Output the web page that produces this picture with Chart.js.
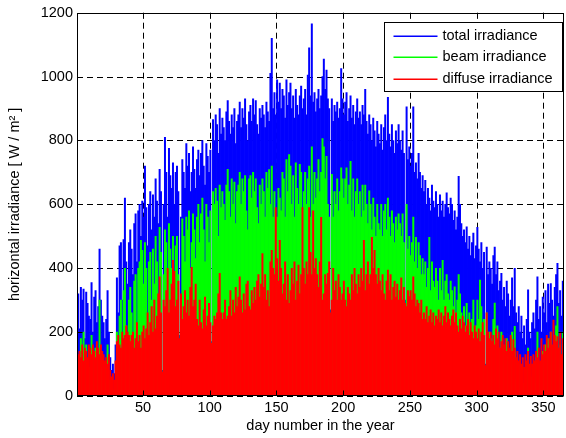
<!DOCTYPE html>
<html><head><meta charset="utf-8">
<script src="https://cdn.jsdelivr.net/npm/chart.js@4.4.1/dist/chart.umd.min.js"></script>
<style>html,body{margin:0;padding:0;background:#fff;}#wrap{width:566px;height:438px;position:relative;}</style>
</head><body><div id="wrap"><canvas id="c" width="566" height="438"></canvas></div>
<script>
const seriesLabels = ['total irradiance', 'beam irradiance', 'diffuse irradiance'];
const seriesColors = ['#0000ff', '#00ff00', '#ff0000'];
const xTickValues = [50, 100, 150, 200, 250, 300, 350];
const yTickValues = [0, 200, 400, 600, 800, 1000, 1200];
const xTitle = 'day number in the year';
const yTitle = 'horizontal irradiance [ W / m\u00B2 ]';

// daily peak values (W/m2), day 1..365
const totalIrradiance = [
345,320,210,340,300,335,180,325,290,250,
240,355,200,310,330,230,280,460,300,250,
230,180,240,330,200,120,80,100,70,160,
370,260,470,480,300,490,620,420,350,480,
520,460,380,540,570,420,580,600,500,610,
560,720,590,470,600,640,520,630,560,680,
610,540,710,640,80,600,810,700,560,775,
690,650,730,600,700,720,640,190,560,740,
700,650,790,720,760,640,700,780,710,650,
740,770,690,760,800,720,660,790,750,700,
770,170,865,800,880,850,760,900,820,870,
840,800,890,925,860,820,880,840,900,790,
860,880,920,840,900,870,930,850,800,890,
910,860,930,880,925,850,820,900,870,910,
880,840,920,890,860,1010,1120,900,950,880,
990,920,980,900,960,940,870,990,910,950,
980,900,940,870,960,910,880,940,970,900,
930,960,880,1005,1090,940,1165,920,950,890,
930,960,900,940,1000,1055,960,1020,930,900,
270,930,860,910,890,920,870,900,1025,930,
880,920,950,860,900,940,870,910,850,890,
930,870,890,850,910,880,960,860,820,880,
850,800,870,830,780,860,820,790,850,770,
840,880,800,935,820,780,850,800,760,830,
790,850,800,770,830,760,300,905,740,780,
720,760,905,700,730,680,760,700,650,690,
640,675,600,650,620,580,660,610,590,640,
600,560,630,580,610,560,600,636,590,570,
620,600,550,580,520,560,688,600,540,500,
520,480,530,460,500,440,480,510,430,470,
528,460,420,480,400,450,100,466,380,420,
400,350,440,466,380,420,330,360,384,300,
340,280,360,320,250,300,370,280,400,260,
230,280,200,250,180,220,160,240,332,200,
180,230,260,210,300,373,240,280,200,310,
260,330,230,350,290,352,300,250,340,380,
415,290,330,250,360
];
const beamIrradiance = [
150,120,60,180,100,200,40,160,110,90,
80,190,50,130,150,70,120,300,140,90,
80,40,90,160,50,10,0,20,0,30,
200,80,250,300,120,330,400,220,150,300,
340,260,160,360,380,220,400,420,487,456,
350,480,400,250,420,450,300,460,350,500,
420,300,528,450,0,380,520,480,300,540,
460,400,500,350,470,500,380,10,300,555,
500,420,560,520,580,400,480,570,520,430,
560,600,480,570,620,520,420,600,560,480,
580,0,640,600,650,610,500,660,590,640,
600,550,660,710,640,560,680,600,670,540,
640,660,700,600,680,640,690,580,520,680,
690,620,700,640,680,590,540,660,600,680,
640,560,700,650,709,600,720,560,640,500,
560,650,620,580,700,680,560,740,640,756,
720,600,690,560,730,650,600,725,700,520,
640,700,600,680,720,560,780,600,700,620,
680,740,640,700,806,780,680,750,600,560,
0,694,560,640,600,680,580,640,714,680,
620,680,714,600,660,735,580,680,560,640,
680,600,640,560,660,580,660,600,540,642,
600,520,620,560,500,600,540,520,600,500,
580,600,520,620,560,500,580,540,480,560,
520,570,540,500,570,480,20,600,460,500,
440,480,560,420,497,400,480,440,380,430,
380,420,340,400,497,330,420,360,340,400,
360,300,400,330,425,300,360,380,320,300,
360,330,280,342,260,300,380,320,260,240,
280,220,290,200,260,180,240,300,160,220,
300,240,363,280,180,240,0,260,150,200,
180,120,240,291,160,220,100,150,200,80,
150,60,180,120,40,100,200,60,218,50,
30,100,20,60,10,40,0,60,150,30,
20,60,100,40,120,200,60,100,30,140,
80,160,50,180,110,200,140,60,180,220,
280,100,160,50,200
];
const diffuseIrradiance = [
150,130,140,120,160,110,150,140,120,160,
150,130,160,140,120,170,150,130,160,140,
130,110,120,100,130,80,60,70,50,110,
170,190,160,150,200,180,190,220,200,190,
170,190,200,150,180,230,170,190,150,200,
220,180,210,260,190,230,280,200,300,210,
250,320,373,260,75,300,280,330,400,260,
300,350,425,390,280,300,360,180,320,240,
280,330,260,300,250,340,403,280,300,350,
240,220,300,230,210,270,310,220,250,290,
230,165,220,250,240,260,320,384,260,240,
260,300,240,250,280,330,250,300,260,340,
280,310,373,300,260,320,270,350,360,280,
270,330,290,340,300,360,380,310,350,446,
340,380,300,330,280,420,456,400,380,590,
430,360,487,400,320,350,420,300,380,290,
330,400,350,420,300,360,410,320,380,590,
400,350,420,380,590,450,380,580,400,430,
380,340,420,559,300,320,380,350,384,420,
260,300,400,330,360,300,380,340,300,320,
360,300,280,340,320,300,380,330,400,350,
320,380,340,400,360,487,330,380,420,350,
380,497,400,456,380,350,400,360,330,380,
320,300,360,394,330,380,300,340,360,310,
350,300,330,370,300,340,290,280,330,311,
330,300,373,320,280,300,290,260,300,240,
260,240,280,230,250,270,230,260,220,250,
240,270,230,260,220,250,280,230,260,240,
220,250,270,230,260,220,200,240,210,250,
230,200,220,240,190,230,200,180,220,200,
180,210,170,200,230,190,95,260,200,180,
200,170,190,160,210,180,200,150,170,190,
160,180,140,170,150,190,140,177,150,120,
140,110,130,100,120,90,130,110,140,100,
124,100,130,110,140,120,150,110,180,130,
160,140,190,150,180,200,160,238,190,170,
186,150,200,130,180
];
const dayNumbers = totalIrradiance.map((_, i) => i + 1);
const seriesValues = [totalIrradiance, beamIrradiance, diffuseIrradiance];

const FONT = 'Liberation Sans, Arial, Helvetica, sans-serif';
const FS = 14.5;

const framePlugin = {
  id: 'framePlugin',
  beforeDatasetsDraw(chart) {
    const {ctx, chartArea: a, scales: {x, y}} = chart;
    ctx.save();
    ctx.strokeStyle = '#000';
    ctx.lineWidth = 1;
    ctx.setLineDash([6, 4]);
    xTickValues.forEach(v => {
      const px = Math.round(x.getPixelForValue(v)) + 0.5;
      ctx.beginPath(); ctx.moveTo(px, a.top); ctx.lineTo(px, a.bottom); ctx.stroke();
    });
    yTickValues.forEach(v => {
      const py = Math.round(y.getPixelForValue(v)) + 0.5;
      ctx.beginPath(); ctx.moveTo(a.left, py); ctx.lineTo(a.right, py); ctx.stroke();
    });
    ctx.restore();
  },
  afterDatasetsDraw(chart) {
    const {ctx, chartArea: a, scales: {x, y}} = chart;
    ctx.save();
    ctx.strokeStyle = '#000';
    ctx.lineWidth = 1;
    ctx.setLineDash([]);
    const L = Math.round(a.left) + 0.5, R = Math.round(a.right) - 0.5;
    const T = Math.round(a.top) + 0.5, B = Math.round(a.bottom) - 0.5;
    ctx.strokeRect(L, T, R - L, B - T);
    const tl = 5;
    ctx.beginPath();
    xTickValues.forEach(v => {
      const px = Math.round(x.getPixelForValue(v)) + 0.5;
      ctx.moveTo(px, B); ctx.lineTo(px, B - tl);
      ctx.moveTo(px, T); ctx.lineTo(px, T + tl);
    });
    yTickValues.forEach(v => {
      const py = Math.round(y.getPixelForValue(v)) + 0.5;
      ctx.moveTo(L, py); ctx.lineTo(L + tl, py);
      ctx.moveTo(R, py); ctx.lineTo(R - tl, py);
    });
    ctx.stroke();

    // legend box
    ctx.font = FS + 'px ' + FONT;
    const ds = chart.data.datasets;
    let maxW = 0;
    ds.forEach(d => { maxW = Math.max(maxW, ctx.measureText(d.label).width); });
    const lineLen = 44, gap = 5, padL = 9, padR = 10, rowH = 21.5, padT = 13;
    const boxW = Math.round(padL + lineLen + gap + maxW + padR);
    const boxH = Math.round(padT * 2 + rowH * (ds.length - 1));
    const bx = Math.round(a.right - 2 - boxW) + 0.5;
    const by = Math.round(a.top + 9) + 0.5;
    ctx.fillStyle = '#fff';
    ctx.fillRect(bx, by, boxW, boxH);
    ctx.strokeStyle = '#000';
    ctx.strokeRect(bx, by, boxW, boxH);
    ds.forEach((d, i) => {
      const cy = Math.round(by + padT + i * rowH);
      ctx.fillStyle = seriesColors[i];
      ctx.fillRect(bx + padL, cy - 0.5, lineLen, 1.5);
      ctx.fillStyle = '#000';
      ctx.textBaseline = 'middle';
      ctx.textAlign = 'left';
      ctx.fillText(d.label, bx + padL + lineLen + gap, cy);
    });
    ctx.restore();
  }
};

new Chart(document.getElementById('c'), {
  type: 'bar',
  data: {
    datasets: seriesValues.map((vals, k) => ({
      label: seriesLabels[k],
      data: vals.map((v, i) => ({x: dayNumbers[i] - 0.5, y: v})),
      backgroundColor: seriesColors[k],
      borderWidth: 0,
      barPercentage: 1,
      categoryPercentage: 1,
      grouped: false,
      order: 3 - k
    }))
  },
  options: {
    responsive: false,
    animation: false,
    devicePixelRatio: 1,
    layout: {padding: {top: 10, right: 2, left: 0, bottom: 0}},
    plugins: {legend: {display: false}, tooltip: {enabled: false}},
    scales: {
      x: {
        type: 'linear',
        offset: false,
        min: 0.6, max: 365.4,
        afterBuildTicks: s => { s.ticks = xTickValues.map(v => ({value: v})); },
        afterFit: s => { s.height = 42; },
        grid: {display: false, drawTicks: false, offset: false},
        border: {display: false},
        ticks: {padding: 3, color: '#000', autoSkip: false, maxRotation: 0, font: {family: FONT, size: FS}, callback: v => String(v)},
        title: {display: true, text: xTitle, color: '#000', font: {family: FONT, size: FS}, padding: {top: 0, bottom: 3}}
      },
      y: {
        min: 0, max: 1200,
        afterBuildTicks: s => { s.ticks = yTickValues.map(v => ({value: v})); },
        afterFit: s => { s.width = 77; },
        grid: {display: false, drawTicks: false},
        border: {display: false},
        ticks: {padding: 4, color: '#000', font: {family: FONT, size: FS}, callback: v => String(v)},
        title: {display: true, text: yTitle, color: '#000', font: {family: FONT, size: FS}, padding: {top: 6, bottom: 0}}
      }
    }
  },
  plugins: [framePlugin]
});
</script></body></html>
